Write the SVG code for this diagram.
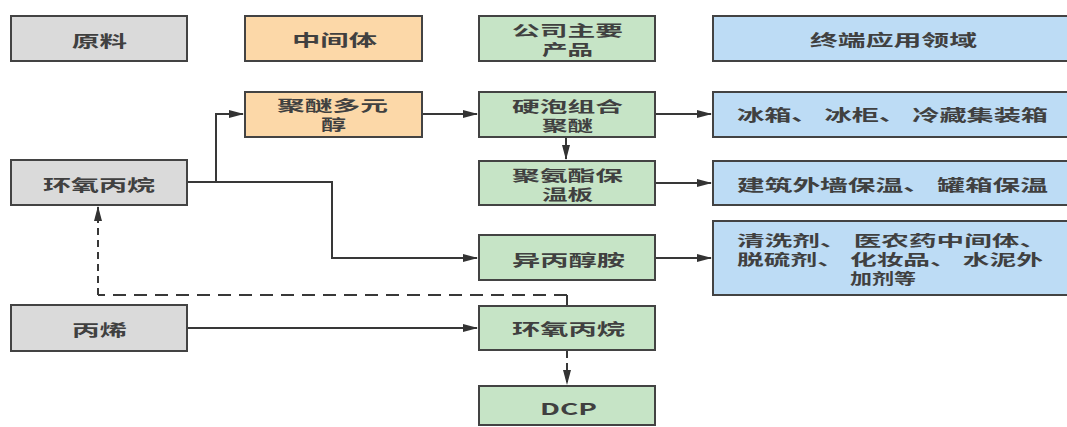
<svg xmlns="http://www.w3.org/2000/svg" width="1067" height="427" viewBox="0 0 1067 427">
<style>
.box{stroke:#434343;stroke-width:2}
.g{fill:#dadada}.o{fill:#fcd8a8}.gr{fill:#c6e4c6}.b{fill:#bddcf5}
text{font-family:"Noto Sans CJK SC","Noto Sans",sans-serif;font-weight:700;font-size:16px;fill:#404040;dominant-baseline:central}
text.s{font-size:14.5px}
.c{fill:none;stroke:#383838;stroke-width:2}
.d{fill:none;stroke:#383838;stroke-width:2}
</style>
<defs>
<marker id="ah" markerUnits="userSpaceOnUse" markerWidth="16" markerHeight="10" refX="14" refY="5" orient="auto">
<path d="M0,1 L15,5 L0,9 z" fill="#333"/>
</marker>
</defs>
<rect width="1067" height="427" fill="#ffffff"/>
<g id="connectors">
<path class="c" d="M187,182 H216 V114 H243" marker-end="url(#ah)"/>
<path class="c" d="M216,182 H332 V258 H477" marker-end="url(#ah)"/>
<path class="c" d="M422,114 H477" marker-end="url(#ah)"/>
<path class="c" d="M566,137 V159" marker-end="url(#ah)"/>
<path class="c" d="M655,114 H711" marker-end="url(#ah)"/>
<path class="c" d="M655,183 H711" marker-end="url(#ah)"/>
<path class="c" d="M655,258 H711" marker-end="url(#ah)"/>
<path class="c" d="M187,328 H477" marker-end="url(#ah)"/>
<path class="d" d="M567,306 V295"/>
<path class="d" d="M567,295 H98" stroke-dasharray="13 8"/>
<path class="d" d="M98,295 V207" stroke-dasharray="7 5" marker-end="url(#ah)"/>
<path class="d" d="M567,351 V384" stroke-dasharray="7 5" marker-end="url(#ah)"/>
</g>
<g id="n-yuanliao"><rect class="box g" x="11" y="16" width="176" height="45"/><text x="72" y="39.5" textLength="55" lengthAdjust="spacingAndGlyphs">原料</text></g>
<g id="n-zhongjianti"><rect class="box o" x="245" y="16" width="177" height="45"/><text x="292" y="39" textLength="85" lengthAdjust="spacingAndGlyphs">中间体</text></g>
<g id="n-chanpin"><rect class="box gr" x="479" y="16" width="176" height="45"/><text class="s" x="512" y="29" textLength="111" lengthAdjust="spacingAndGlyphs">公司主要</text><text class="s" x="542" y="48" textLength="51" lengthAdjust="spacingAndGlyphs">产品</text></g>
<g id="n-zhongduan"><rect class="box b" x="713" y="16" width="360" height="45"/><text x="810" y="39" textLength="167" lengthAdjust="spacingAndGlyphs">终端应用领域</text></g>
<g id="n-jumi"><rect class="box o" x="245" y="92" width="177" height="45"/><text class="s" x="277" y="104.5" textLength="111" lengthAdjust="spacingAndGlyphs">聚醚多元</text><text class="s" x="321" y="123.5" textLength="25" lengthAdjust="spacingAndGlyphs">醇</text></g>
<g id="n-yingpao"><rect class="box gr" x="479" y="92" width="176" height="45"/><text class="s" x="512" y="105" textLength="111" lengthAdjust="spacingAndGlyphs">硬泡组合</text><text class="s" x="542" y="124" textLength="51" lengthAdjust="spacingAndGlyphs">聚醚</text></g>
<g id="n-bingxiang"><rect class="box b" x="713" y="92" width="360" height="45"/><text x="737" y="114" textLength="311" lengthAdjust="spacingAndGlyphs">冰箱、 冰柜、 冷藏集装箱</text></g>
<g id="n-hyb-left"><rect class="box g" x="11" y="160" width="176" height="45"/><text x="43" y="184" textLength="112" lengthAdjust="spacingAndGlyphs">环氧丙烷</text></g>
<g id="n-juanzhi"><rect class="box gr" x="479" y="161" width="176" height="44"/><text class="s" x="512" y="174" textLength="111" lengthAdjust="spacingAndGlyphs">聚氨酯保</text><text class="s" x="542" y="193" textLength="51" lengthAdjust="spacingAndGlyphs">温板</text></g>
<g id="n-jianzhu"><rect class="box b" x="713" y="161" width="360" height="44"/><text x="737" y="183.5" textLength="311" lengthAdjust="spacingAndGlyphs">建筑外墙保温、 罐箱保温</text></g>
<g id="n-yibingchunan"><rect class="box gr" x="479" y="235" width="176" height="45"/><text x="512" y="259" textLength="113" lengthAdjust="spacingAndGlyphs">异丙醇胺</text></g>
<g id="n-qingxi"><rect class="box b" x="713" y="221" width="360" height="74"/><text class="s" x="737" y="239.5" textLength="310" lengthAdjust="spacingAndGlyphs">清洗剂、 医农药中间体、</text><text class="s" x="737" y="258.5" textLength="306" lengthAdjust="spacingAndGlyphs">脱硫剂、 化妆品、 水泥外</text><text class="s" x="850" y="277.5" textLength="66" lengthAdjust="spacingAndGlyphs">加剂等</text></g>
<g id="n-bingxi"><rect class="box g" x="11" y="305" width="176" height="46"/><text x="72" y="329" textLength="55" lengthAdjust="spacingAndGlyphs">丙烯</text></g>
<g id="n-hyb-green"><rect class="box gr" x="479" y="306" width="176" height="44"/><text x="512" y="328" textLength="113" lengthAdjust="spacingAndGlyphs">环氧丙烷</text></g>
<g id="n-dcp"><rect class="box gr" x="479" y="386" width="176" height="39"/><text x="540" y="408" textLength="57" lengthAdjust="spacingAndGlyphs">DCP</text></g>
</svg>
